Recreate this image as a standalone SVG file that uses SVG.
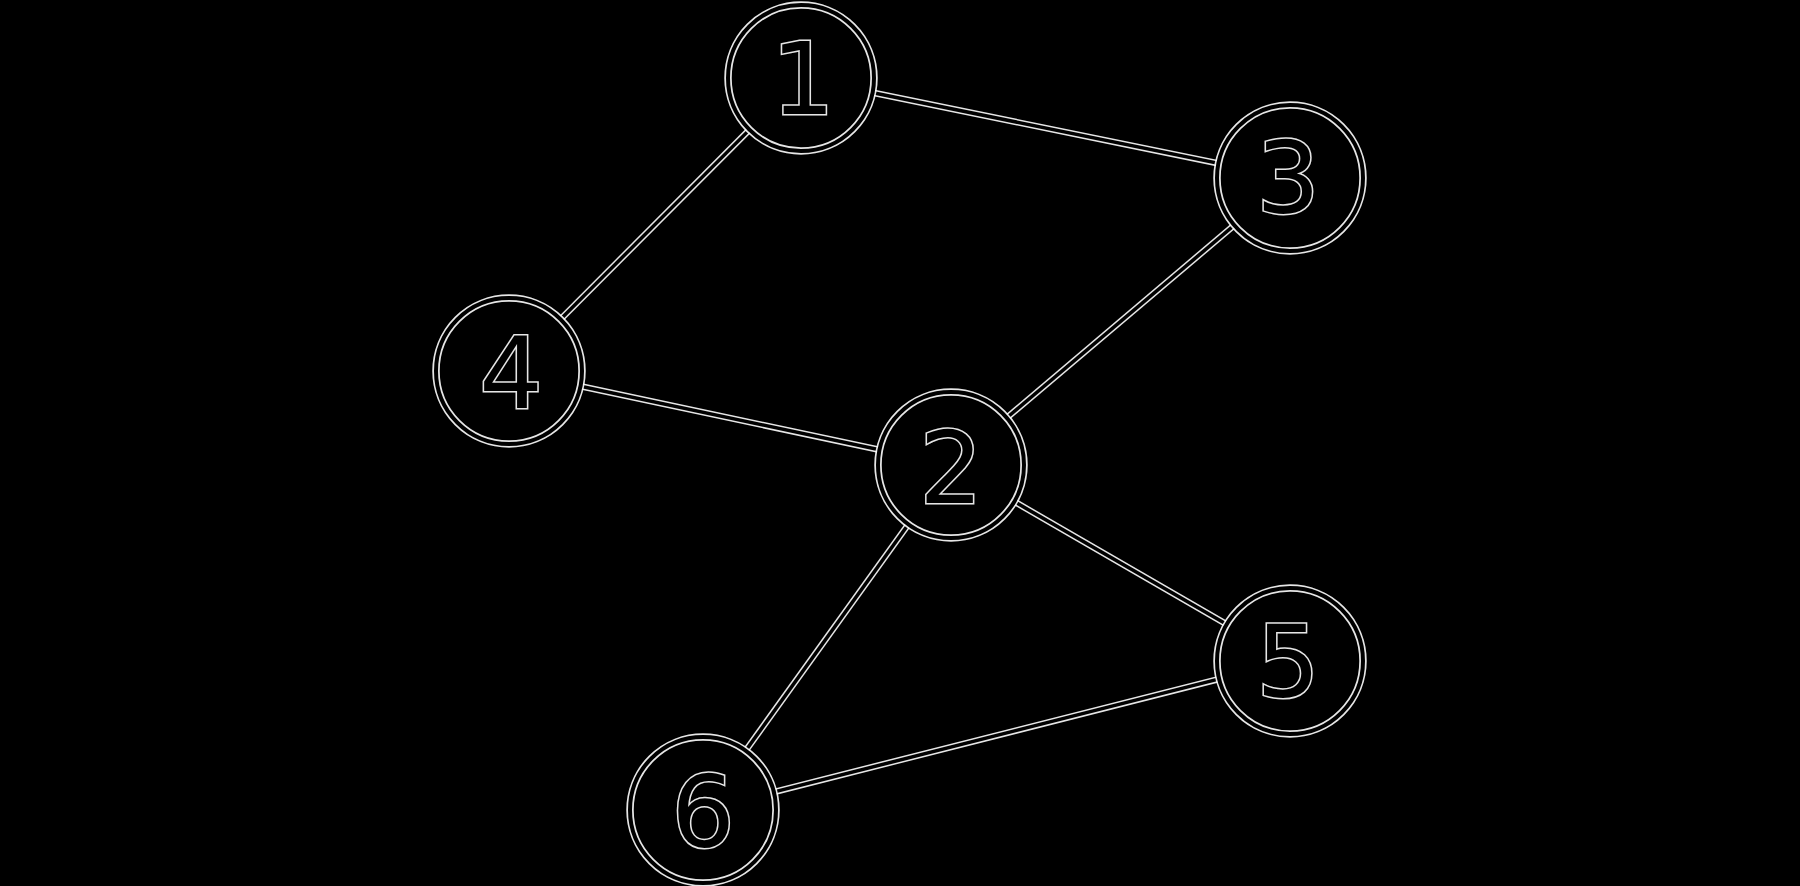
<svg xmlns="http://www.w3.org/2000/svg" width="1800" height="886" viewBox="0 0 1800 886">
<style>
.eh{stroke:#fff;stroke-opacity:0.9;stroke-width:6.5;fill:none}
.e{stroke:#000;stroke-width:3.5;fill:none}
.ch{fill:#000;stroke:#fff;stroke-opacity:0.9;stroke-width:7.5}
.c{fill:none;stroke:#000;stroke-width:4}
.t{font-family:"DejaVu Sans",sans-serif;font-size:100px;text-anchor:middle;fill:#000;stroke:#fff;stroke-opacity:0.9;stroke-width:3;paint-order:stroke}
</style>
<rect width="1800" height="886" fill="#000"/>
<g id="connectors">
<g class="eh">
<line x1="801" y1="78" x2="1290" y2="178"/>
<line x1="801" y1="78" x2="509" y2="371"/>
<line x1="509" y1="371" x2="951" y2="465"/>
<line x1="951" y1="465" x2="1290" y2="178"/>
<line x1="951" y1="465" x2="1290" y2="661"/>
<line x1="951" y1="465" x2="703" y2="810"/>
<line x1="703" y1="810" x2="1290" y2="661"/>
</g>
<g class="e">
<line x1="801" y1="78" x2="1290" y2="178"/>
<line x1="801" y1="78" x2="509" y2="371"/>
<line x1="509" y1="371" x2="951" y2="465"/>
<line x1="951" y1="465" x2="1290" y2="178"/>
<line x1="951" y1="465" x2="1290" y2="661"/>
<line x1="951" y1="465" x2="703" y2="810"/>
<line x1="703" y1="810" x2="1290" y2="661"/>
</g>
</g>
<g id="node1"><circle class="ch" cx="801" cy="78" r="73"/><circle class="c" cx="801" cy="78" r="73"/><text class="t" x="803" y="114">1</text></g>
<g id="node2"><circle class="ch" cx="951" cy="465" r="73"/><circle class="c" cx="951" cy="465" r="73"/><text class="t" x="951" y="503">2</text></g>
<g id="node3"><circle class="ch" cx="1290" cy="178" r="73"/><circle class="c" cx="1290" cy="178" r="73"/><text class="t" x="1288" y="213">3</text></g>
<g id="node4"><circle class="ch" cx="509" cy="371" r="73"/><circle class="c" cx="509" cy="371" r="73"/><text class="t" x="511" y="408">4</text></g>
<g id="node5"><circle class="ch" cx="1290" cy="661" r="73"/><circle class="c" cx="1290" cy="661" r="73"/><text class="t" x="1288" y="697">5</text></g>
<g id="node6"><circle class="ch" cx="703" cy="810" r="73"/><circle class="c" cx="703" cy="810" r="73"/><text class="t" x="703" y="847">6</text></g>
</svg>
